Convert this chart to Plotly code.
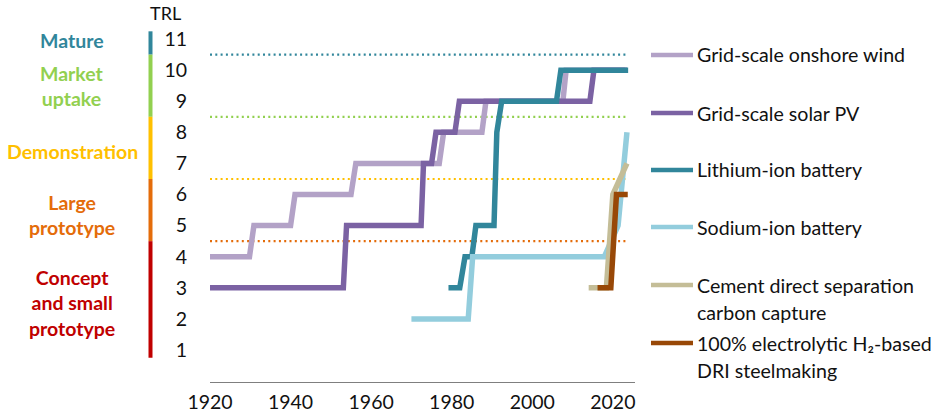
import plotly.graph_objects as go

# ---------------- data ----------------
years_ticks = [1920, 1940, 1960, 1980, 2000, 2020]
trl_ticks = [1, 2, 3, 4, 5, 6, 7, 8, 9, 10, 11]

wind_x = [1920, 1929.8, 1930.9, 1940.0, 1941.1, 1955.0, 1956.2, 1976.9, 1978.0, 1987.5, 1988.5, 2007.6, 2008.4, 2023.0]
wind_y = [4, 4, 5, 5, 6, 6, 7, 7, 8, 8, 9, 9, 10, 10]

solar_x = [1920, 1953.1, 1953.9, 1972.4, 1973.0, 1975.0, 1976.1, 1980.8, 1981.9, 2014.3, 2015.3, 2023.5]
solar_y = [3, 3, 5, 5, 7, 7, 8, 8, 9, 9, 10, 10]

li_x = [1979.2, 1982.0, 1983.3, 1985.0, 1986.0, 1990.5, 1991.2, 1992.4, 2006.0, 2007.1, 2023.8]
li_y = [3, 3, 4, 4, 5, 5, 8, 9, 9, 10, 10]

na_x = [1970.0, 1984.1, 1985.2, 2017.9, 2021.3, 2023.5]
na_y = [2, 2, 4, 4, 5, 8]

cement_x = [2014.0, 2018.4, 2020.0, 2023.5]
cement_y = [3, 3, 6, 7]

steel_x = [2016.2, 2019.5, 2020.9, 2023.7]
steel_y = [3, 3, 6, 6]

series_names = [
    "Grid-scale onshore wind",
    "Grid-scale solar PV",
    "Lithium-ion battery",
    "Sodium-ion battery",
    "Cement direct separation<br>carbon capture",
    "100% electrolytic H₂-based<br>DRI steelmaking",
]
series_colors = ["#B3A2C7", "#7B62A3", "#31869B", "#93CDDD", "#C4BD97", "#984807"]

# stage bands: (label, lower TRL bound, upper TRL bound, label centre, colour)
stage_labels = ["Mature", "Market<br>uptake", "Demonstration", "Large<br>prototype", "Concept<br>and small<br>prototype"]
stage_lo = [10.5, 8.5, 6.5, 4.5, 0.75]
stage_hi = [11.25, 10.5, 8.5, 6.5, 4.5]
stage_label_pos = [10.95, 9.5, 7.37, 5.35, 2.5]
stage_colors = ["#31869B", "#92D050", "#FFC000", "#E46C0A", "#C00000"]

threshold_levels = [10.5, 8.5, 6.5, 4.5]
threshold_colors = ["#31869B", "#92D050", "#FFC000", "#E46C0A"]
threshold_x = [1920, 2023.5]

# ---------------- layout geometry ----------------
W, H = 940, 415
ML, MR, MT, MB = 210, 305, 8, 33
XR = [1920, 2025.5]
YR = [-0.03, 12]
FONT = "Lato"
TXT = "#111111"
PW, PH = W - ML - MR, H - MT - MB


def px_x(px):
    """screen pixel -> paper x"""
    return (px - ML) / PW


def px_y(py):
    """screen pixel -> paper y"""
    return (H - MB - py) / PH


fig = go.Figure()

for lvl, col in zip(threshold_levels, threshold_colors):
    fig.add_trace(go.Scatter(
        x=threshold_x, y=[lvl, lvl], mode="lines",
        line=dict(color=col, width=2.2, dash="2px,3.3px"),
        hoverinfo="skip", showlegend=False))

all_x = [wind_x, solar_x, li_x, na_x, cement_x, steel_x]
all_y = [wind_y, solar_y, li_y, na_y, cement_y, steel_y]
for xs, ys, name, col in zip(all_x, all_y, series_names, series_colors):
    fig.add_trace(go.Scatter(
        x=xs, y=ys, mode="lines", name=name.replace("<br>", " "),
        line=dict(color=col, width=5.5), showlegend=False))

shapes = []
annotations = []

# stage colour bar + labels
for lab, lo, hi, pos, col in zip(stage_labels, stage_lo, stage_hi, stage_label_pos, stage_colors):
    shapes.append(dict(type="rect", xref="paper", yref="y",
                       x0=px_x(148.5), x1=px_x(152.5), y0=lo, y1=hi,
                       fillcolor=col, line=dict(width=0)))
    annotations.append(dict(text="<b>" + lab + "</b>", xref="paper", yref="y",
                            x=px_x(72), y=pos, xanchor="center", yanchor="middle",
                            showarrow=False, align="center",
                            font=dict(family=FONT, size=19.5, color=col)))

annotations.append(dict(text="TRL", xref="paper", yref="paper", x=px_x(165), y=px_y(13),
                        xanchor="center", yanchor="middle", showarrow=False,
                        font=dict(family=FONT, size=18, color=TXT)))

# manual legend
legend_rows = [55, 113, 170, 227, 285, 343]
for name, col, row in zip(series_names, series_colors, legend_rows):
    shapes.append(dict(type="line", xref="paper", yref="paper",
                       x0=px_x(651), x1=px_x(693), y0=px_y(row), y1=px_y(row),
                       line=dict(color=col, width=4.5)))
    for i, part in enumerate(name.split("<br>")):
        annotations.append(dict(text=part, xref="paper", yref="paper",
                                x=px_x(695), y=px_y(row + 27 * i),
                                xanchor="left", yanchor="middle", showarrow=False,
                                font=dict(family=FONT, size=19.6, color=TXT)))

fig.update_layout(
    width=W, height=H,
    margin=dict(l=ML, r=MR, t=MT, b=MB, autoexpand=False),
    paper_bgcolor="white", plot_bgcolor="white",
    shapes=shapes, annotations=annotations,
    showlegend=False,
    font=dict(family=FONT, size=19.5, color=TXT),
    xaxis=dict(range=XR, tickvals=years_ticks, showgrid=False, zeroline=False,
               showline=True, linecolor="#7F7F7F", linewidth=1.3,
               ticks="outside", ticklen=2, tickcolor="rgba(0,0,0,0)",
               tickfont=dict(family=FONT, size=19.5, color=TXT)),
    yaxis=dict(range=YR, tickvals=trl_ticks, showgrid=False, zeroline=False,
               showline=False, ticks="outside", ticklen=18, tickcolor="rgba(0,0,0,0)",
               tickfont=dict(family=FONT, size=19.5, color=TXT)),
)

fig.write_html(
    "out.html",
    config={"displayModeBar": False},
    post_script="document.body.style.margin='0px';document.body.style.overflow='hidden';",
)
